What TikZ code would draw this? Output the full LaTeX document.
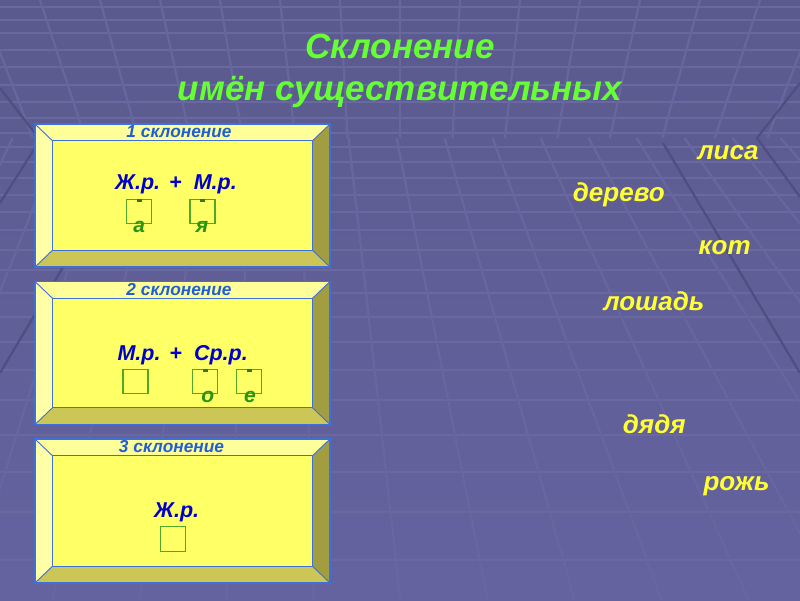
\documentclass[tikz,border=0pt]{standalone}
\usepackage{fontspec}
\setmainfont{Liberation Sans}
\definecolor{bgtop}{HTML}{5B5A8E}
\definecolor{bgbot}{HTML}{6463A0}
\definecolor{gridc}{HTML}{6968A1}
\definecolor{gridv}{HTML}{67669F}
\definecolor{darkl}{HTML}{4F4E80}
\definecolor{face}{HTML}{FFFF66}
\definecolor{bevT}{HTML}{FFFF99}
\definecolor{bevL}{HTML}{FFFFA8}
\definecolor{bevR}{HTML}{A39D42}
\definecolor{bevB}{HTML}{CCC657}
\definecolor{edge}{HTML}{3F6FD8}
\definecolor{ttl}{HTML}{66FF33}
\definecolor{lbl}{HTML}{1F5FD6}
\definecolor{frm}{HTML}{0000CC}
\definecolor{grn}{HTML}{52A826}
\definecolor{lettg}{HTML}{2A9410}
\definecolor{dgrn}{HTML}{2E7A10}
\definecolor{wrd}{HTML}{FFFF33}
\tikzset{
  txt/.style={inner sep=0pt, anchor=base, font=\bfseries\itshape},
  titletxt/.style={txt, text=ttl, font=\bfseries\itshape\fontsize{35}{42}\selectfont},
  labeltxt/.style={txt, text=lbl, font=\bfseries\itshape\fontsize{17.3}{20}\selectfont},
  formtxt/.style={txt, anchor=base west, text=frm, font=\bfseries\itshape\fontsize{21.5}{25}\selectfont},
  endtxt/.style={txt, text=lettg, font=\bfseries\itshape\fontsize{21}{24}\selectfont},
  wordtxt/.style={txt, anchor=base west, text=wrd, font=\bfseries\itshape\fontsize{26}{30}\selectfont},
  gridline/.style={draw=gridc, line width=1.3pt},
  gridvline/.style={draw=gridv, line width=2.2pt},
  darkline/.style={draw=darkl, line width=2.2pt},
  edgeline/.style={draw=edge, line width=0.9pt},
  sqbox/.style={draw=grn, line width=1.3pt},
}
% bevelled box: x1 y1 x2 y2 (pixel coordinates, y down)
\newcommand\bevbox[4]{%
  \fill[bevT] (#1,#2) -- (#3,#2) -- ({#3-17.5},{#2+16.8}) -- ({#1+17.5},{#2+16.8}) -- cycle;
  \fill[bevL] (#1,#2) -- ({#1+17.5},{#2+16.8}) -- ({#1+17.5},{#4-16.8}) -- (#1,#4) -- cycle;
  \fill[bevR] (#3,#2) -- ({#3-17.5},{#2+16.8}) -- ({#3-17.5},{#4-16.8}) -- (#3,#4) -- cycle;
  \fill[bevB] (#1,#4) -- ({#1+17.5},{#4-16.8}) -- ({#3-17.5},{#4-16.8}) -- (#3,#4) -- cycle;
  \fill[face] ({#1+17.5},{#2+16.8}) rectangle ({#3-17.5},{#4-16.8});
  \draw[edgeline] ({#1+17.5},{#2+16.8}) rectangle ({#3-17.5},{#4-16.8});
  \draw[edgeline] (#1,#2) -- ({#1+17.5},{#2+16.8}) (#3,#2) -- ({#3-17.5},{#2+16.8})
     (#1,#4) -- ({#1+17.5},{#4-16.8}) (#3,#4) -- ({#3-17.5},{#4-16.8});
  \draw[edgeline, line width=1.2pt] (#1,#2) rectangle (#3,#4);
}
% ending square: x1 y1 with optional dash
\newcommand\sqending[3]{%
  \draw[sqbox] (#1,#2) rectangle ({#1+25},{#2+24.5});
  \ifnum#3=1 \fill[dgrn] ({#1+10},{#2-0.3}) rectangle ({#1+15},{#2+2.8});\fi
}
\begin{document}
\begin{tikzpicture}[x=1pt, y=-1pt]
\useasboundingbox (0,0) rectangle (800,600);
% background
\shade[top color=bgtop, bottom color=bgbot] (0,0) rectangle (800,600);
\begin{scope}
\clip (0,0) rectangle (800,600);
% horizontals
\foreach \yy in {7,20,33,50,67,85,102,118,133,147,162,178,195,212,230,250,270,293,317,342,370,400,435,472,512,560} {
  \draw[gridline] (0,\yy) -- (800,\yy);
}
% ceiling verticals
\foreach \k in {-8,...,8} {
  \draw[gridvline] ({400+60*\k},0) -- ({400+52.47*\k},138);
}
% floor verticals
\foreach \k in {-8,...,10} {
  \pgfmathsetmacro\s{(65+49*\k)/580}
  \draw[gridvline] ({285+\s*568},138) -- ({285+\s*1030},600);
}
% darker corner lines
\draw[darkline] (800,83) -- (757,138) -- (800,197);
\draw[darkline] (0,88) -- (40,140) -- (0,203);
\draw[darkline] (663,143) -- (800,373);
\draw[darkline] (137,143) -- (0,373);
\end{scope}

% title
\node[titletxt] (t1) at (400,58.3) {Склонение};
\node[titletxt] (t2) at (400,100) {имён существительных};

% boxes
\bevbox{35}{124}{330}{267}
\bevbox{35}{281.5}{330}{424.5}
\bevbox{35}{439}{330}{583}

% box labels
\node[labeltxt] (l1) at (179,137.3) {1 склонение};
\node[labeltxt] (l2) at (179,295) {2 склонение};
\node[labeltxt] (l3) at (171.5,452.7) {3 склонение};

% box 1
\node[formtxt] (f1) at (115,189.3) {Ж.р.\hspace{9pt}+\hspace{12pt}М.р.};
\sqending{126.5}{199.3}{1}
\sqending{190}{199.3}{1}
\node[endtxt] (e1a) at (139.2,232.7) {а};
\node[endtxt] (e1b) at (202,232.7) {я};

% box 2
\node[formtxt] (f2) at (117.3,360) {М.р.\hspace{9pt}+\hspace{12pt}Ср.р.};
\sqending{123}{369.3}{0}
\sqending{192.5}{369.3}{1}
\sqending{236.7}{369.3}{1}
\node[endtxt] (e2a) at (207.8,402.7) {о};
\node[endtxt] (e2b) at (250,402.7) {е};

% box 3
\node[formtxt] (f3) at (154,517.3) {Ж.р.};
\sqending{160.5}{526.7}{0}

% words
\node[wordtxt] (w1) at (697.3,159.3) {лиса};
\node[wordtxt] (w2) at (572.7,201.7) {дерево};
\node[wordtxt] (w3) at (698.3,254) {кот};
\node[wordtxt] (w4) at (603.3,310) {лошадь};
\node[wordtxt] (w5) at (622.7,433.3) {дядя};
\node[wordtxt] (w6) at (703.3,490.7) {рожь};
\end{tikzpicture}
\end{document}
